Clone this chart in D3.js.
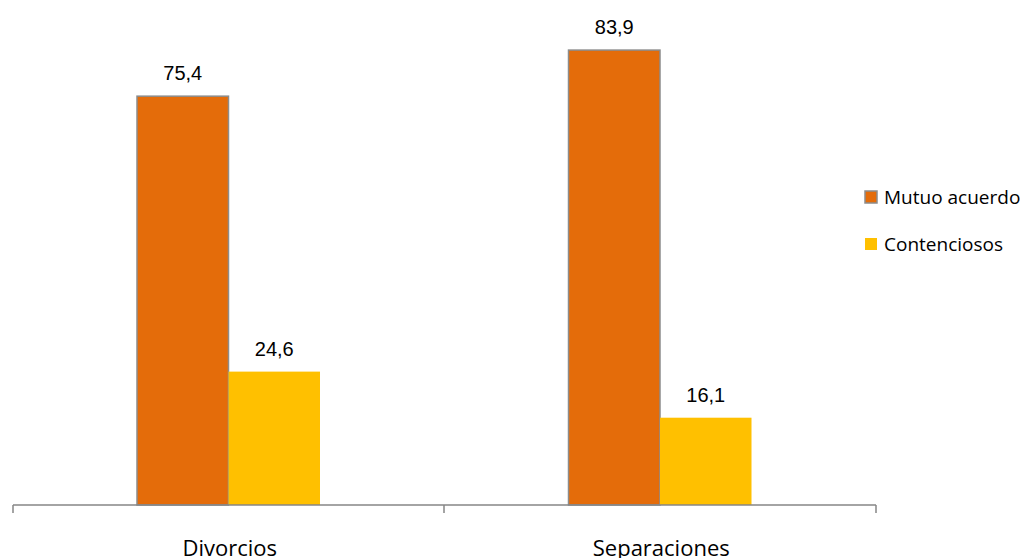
<!DOCTYPE html>
<html><head><meta charset="utf-8">
<script src="https://cdn.jsdelivr.net/npm/d3@7"></script>
<style>body{margin:0;background:#fff}svg{display:block}</style>
</head><body>
<svg id="c" width="1027" height="558"></svg>
<script>
const categories = ["Divorcios", "Separaciones"];
const seriesNames = ["Mutuo acuerdo", "Contenciosos"];
const mutuoAcuerdo = [75.4, 83.9];
const contenciosos = [24.6, 16.1];
const colors = ["#E46C0A", "#FFC000"];
const strokes = ["#8C8C8C", "none"];

const svg = d3.select("#c");
const x0 = d3.scaleBand().domain(categories).range([13, 876]).paddingInner(0).paddingOuter(0);
const x1 = d3.scaleBand().domain(seriesNames).range([124, 431 - 124]);
const y = d3.scaleLinear().domain([0, 90]).range([505, 17]);
const seriesVals = [mutuoAcuerdo, contenciosos];

categories.forEach((c, i) => {
  const g = svg.append("g").attr("transform", `translate(${x0(c)},0)`);
  seriesNames.forEach((s, j) => {
    const v = seriesVals[j][i];
    g.append("rect").attr("x", x1(s)).attr("width", x1.bandwidth())
      .attr("y", y(v)).attr("height", y(0) - y(v))
      .attr("fill", colors[j]).attr("stroke", strokes[j]).attr("stroke-width", 1.5);
    g.append("text").attr("x", x1(s) + x1.bandwidth() / 2).attr("y", y(v) - 16)
      .attr("text-anchor", "middle").attr("font-family", "Liberation Sans, Arial")
      .attr("font-size", 20).attr("fill", "#000").text(d3.format(".1f")(v).replace(".", ","));
  });
});

const ag = svg.append("g").attr("transform", "translate(0,505)");
ag.append("line").attr("x1", 13).attr("x2", 876).attr("stroke", "#868686").attr("stroke-width", 1.5);
[13, 444, 876].forEach(t => ag.append("line").attr("x1", t).attr("x2", t).attr("y1", 0).attr("y2", 8).attr("stroke", "#868686").attr("stroke-width", 1.5));
categories.forEach(c => {
  svg.append("text").attr("x", x0(c) + x0.bandwidth() / 2 + 1).attr("y", 556)
    .attr("text-anchor", "middle").attr("font-family", "Open Sans, Lato, sans-serif")
    .attr("font-size", 22).attr("fill", "#000").text(c);
});

const lg = svg.append("g");
seriesNames.forEach((s, j) => {
  const cy = j === 0 ? 197 : 244;
  lg.append("rect").attr("x", 865).attr("y", cy - 6).attr("width", 12).attr("height", 12)
    .attr("fill", colors[j]).attr("stroke", strokes[j]).attr("stroke-width", 1.5);
  lg.append("text").attr("x", 884).attr("y", cy + 7).attr("font-family", "Open Sans, Lato, sans-serif")
    .attr("font-size", 19).attr("fill", "#000").text(s);
});
</script>
</body></html>
